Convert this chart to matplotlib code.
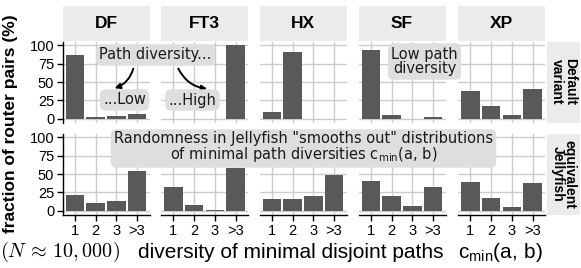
import matplotlib
matplotlib.use("Agg")
import matplotlib.pyplot as plt
from matplotlib.patches import FancyArrowPatch, Rectangle

plt.rcParams['font.family'] = ['Liberation Sans', 'DejaVu Sans']
plt.rcParams['mathtext.fontset'] = 'cm'

categories = ['1', '2', '3', '>3']
topologies = ['DF', 'FT3', 'HX', 'SF', 'XP']
rows = ['Default\nvariant', 'equivalent\nJellyfish']

default_DF = [87, 3, 4, 6]
default_FT3 = [0, 0, 0, 100]
default_HX = [9, 91, 0, 0]
default_SF = [93, 5, 0, 2]
default_XP = [38, 17, 5, 40]

jelly_DF = [22, 10, 14, 54]
jelly_FT3 = [33, 8, 1, 58]
jelly_HX = [16, 16, 20, 48]
jelly_SF = [40, 20, 7, 32]
jelly_XP = [39, 17, 5, 38]

yticks = [0, 25, 50, 75, 100]

data = [
    [default_DF, default_FT3, default_HX, default_SF, default_XP],
    [jelly_DF, jelly_FT3, jelly_HX, jelly_SF, jelly_XP],
]

W, H = 581, 268
fig = plt.figure(figsize=(W / 100, H / 100), dpi=100)

def rect(x0, y0, x1, y1):
    return [x0 / W, 1 - y1 / H, (x1 - x0) / W, (y1 - y0) / H]

def fx(x):
    return x / W

def fy(y):
    return 1 - y / H

col_left = [62.5, 161, 259.5, 358.5, 458]
pw = 87
row_top = [41.5, 133.5]
ph = 81

bar_color = '#595959'
grid_color = '#cccccc'
strip_color = '#ebebeb'
label_bg = '#dedede'

xpos = list(range(1, len(categories) + 1))

for r in range(2):
    for c in range(5):
        x0 = col_left[c]
        y0 = row_top[r]
        ax = fig.add_axes(rect(x0, y0, x0 + pw, y0 + ph))
        ax.set_xlim(0.4, 4.6)
        ax.set_ylim(-5, 105)
        ax.set_axisbelow(True)
        ax.set_xticks(xpos)
        ax.set_yticks(yticks)
        ax.grid(True, color=grid_color, lw=1.0)
        ax.bar(xpos, data[r][c], width=0.9, color=bar_color, zorder=2)
        for s in ax.spines.values():
            s.set_visible(False)
        ax.tick_params(length=0, labelsize=10.5, colors='black', pad=2)
        if c == 0:
            ax.spines['left'].set_visible(True)
            ax.spines['left'].set_color('black')
            ax.spines['left'].set_linewidth(1.0)
            ax.tick_params(axis='y', length=4, width=1.0, labelsize=10.5)
            ax.set_yticklabels([str(v) for v in yticks])
        else:
            ax.set_yticklabels([])
        if r == 1:
            ax.spines['bottom'].set_visible(True)
            ax.spines['bottom'].set_color('black')
            ax.spines['bottom'].set_linewidth(1.0)
            ax.tick_params(axis='x', length=4, width=1.0, labelsize=10.5, pad=3)
            ax.set_xticklabels(categories)
        else:
            ax.set_xticklabels([])
        if r == 0:
            fig.patches.append(Rectangle((fx(x0), fy(41)), pw / W, 35 / H,
                                         transform=fig.transFigure,
                                         facecolor=strip_color, edgecolor='none'))
            fig.text(fx(x0 + pw / 2), fy(23.5), topologies[c], ha='center', va='center',
                     fontsize=12.5, fontweight='bold')
    fig.patches.append(Rectangle((fx(547), fy(row_top[r] + ph)), 33 / W, ph / H,
                                 transform=fig.transFigure,
                                 facecolor=strip_color, edgecolor='none'))
    fig.text(fx(563.5), fy(row_top[r] + ph / 2), rows[r], ha='center', va='center',
             rotation=-90, rotation_mode='anchor', fontsize=10, fontweight='bold',
             linespacing=0.85, multialignment='center')

# axis labels
fig.text(fx(11), fy(124), 'fraction of router pairs (%)', rotation=90, ha='center',
         va='center', fontsize=12.5, fontweight='bold')
fig.text(fx(138), fy(252), 'diversity of minimal disjoint paths',
         ha='left', va='center', fontsize=15)
fig.text(fx(458), fy(252), r'$\mathregular{c_{min}(a,\,b)}$',
         ha='left', va='center', fontsize=15)
fig.text(fx(0), fy(252), r'$(N\,\approx\,10,\!\,000)$', ha='left', va='center', fontsize=14.5)

# annotations
box = dict(boxstyle='round,pad=0.22,rounding_size=0.4', facecolor=label_bg, edgecolor='none')
ann_font = dict(family='DejaVu Sans', fontsize=10.5, color='#1a1a1a')
fig.text(fx(155.5), fy(55), 'Path diversity...', ha='center', va='center', bbox=box, **ann_font)
fig.text(fx(124.5), fy(100), '...Low', ha='center', va='center', bbox=box, **ann_font)
fig.text(fx(192.5), fy(100), '...High', ha='center', va='center', bbox=box, **ann_font)
fig.text(fx(424.5), fy(61.5), 'Low path\ndiversity', ha='center', va='center', bbox=box,
         multialignment='center', linespacing=1.0, **ann_font)
fig.text(fx(303.5), fy(147.5),
         'Randomness in Jellyfish "smooths out" distributions\n'
         r'of minimal path diversities $\mathregular{c_{min}(a,\,b)}$',
         ha='center', va='center', bbox=box, multialignment='center', linespacing=1.0,
         **ann_font)

for (xs, ys, xe, ye, rad) in [(134, 66, 112, 89, -0.3), (177, 66, 210, 89, 0.3)]:
    arr = FancyArrowPatch((fx(xs), fy(ys)), (fx(xe), fy(ye)), transform=fig.transFigure,
                          connectionstyle=f'arc3,rad={rad}', arrowstyle='-|>',
                          mutation_scale=8, lw=1.4, color='black')
    fig.patches.append(arr)

fig.savefig('out.png', dpi=100)
